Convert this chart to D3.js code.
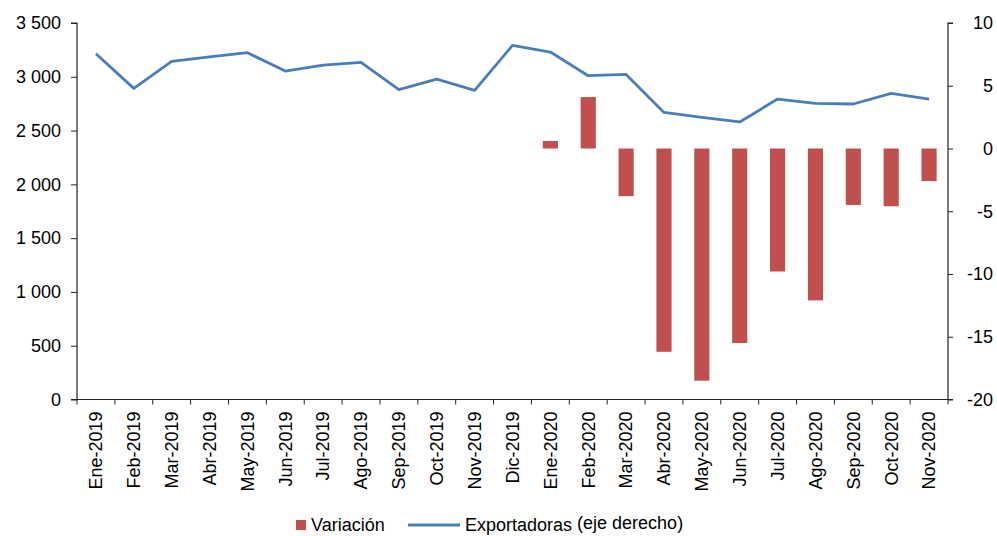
<!DOCTYPE html>
<html>
<head>
<meta charset="utf-8">
<script src="https://cdn.jsdelivr.net/npm/d3@7"></script>
<style>
  body { margin: 0; background: #fff; }
  svg text { font-family: "Liberation Sans", Arial, sans-serif; fill: #000; }
</style>
</head>
<body>
<svg width="997" height="536"></svg>
<script>
const svg = d3.select("svg");

// months on the x axis
const months = [
  "Ene-2019", "Feb-2019", "Mar-2019", "Abr-2019", "May-2019", "Jun-2019",
  "Jul-2019", "Ago-2019", "Sep-2019", "Oct-2019", "Nov-2019", "Dic-2019",
  "Ene-2020", "Feb-2020", "Mar-2020", "Abr-2020", "May-2020", "Jun-2020",
  "Jul-2020", "Ago-2020", "Sep-2020", "Oct-2020", "Nov-2020"
];

// number of exporting firms (line)
const exportadoras = [
  3214, 2892, 3143, 3186, 3224, 3053, 3109, 3134, 2880, 2979, 2874, 3292,
  3230, 3010, 3022, 2669, 2623, 2580, 2793, 2753, 2747, 2846, 2793
];

// yearly variation, % (bars) - only 2020
const variacion = [
  null, null, null, null, null, null, null, null, null, null, null, null,
  0.6, 4.1, -3.8, -16.2, -18.5, -15.5, -9.8, -12.1, -4.5, -4.6, -2.6
];

const leftTicks = [0, 500, 1000, 1500, 2000, 2500, 3000, 3500];
const rightTicks = [-20, -15, -10, -5, 0, 5, 10];

const plotL = 77, plotR = 948, plotT = 23, plotB = 399.5;

const x = d3.scaleBand().domain(months).range([plotL, plotR]).padding(0);
const yL = d3.scaleLinear().domain([0, 3500]).range([plotB, plotT]);
const yR = d3.scaleLinear().domain([-20, 10]).range([plotB, plotT]);

const fmt = d => d3.format(",")(d).replace(/,/g, "\u00a0");

// bars
const barW = x.bandwidth() * 0.4;
svg.append("g")
  .selectAll("rect")
  .data(months.map((m, i) => ({ m, v: variacion[i] })).filter(d => d.v !== null))
  .enter().append("rect")
  .attr("x", d => x(d.m) + (x.bandwidth() - barW) / 2)
  .attr("y", d => yR(Math.max(0, d.v)))
  .attr("width", barW)
  .attr("height", d => Math.abs(yR(d.v) - yR(0)))
  .attr("fill", "#C0504D");

// line
const line = d3.line()
  .x((d, i) => x(months[i]) + x.bandwidth() / 2)
  .y(d => yL(d));

svg.append("path")
  .datum(exportadoras)
  .attr("d", line)
  .attr("fill", "none")
  .attr("stroke", "#4A7EBB")
  .attr("stroke-width", 2.8)
  .attr("stroke-linejoin", "round");

// left axis
const gL = svg.append("g")
  .attr("transform", `translate(${plotL},0)`)
  .call(d3.axisLeft(yL).tickValues(leftTicks).tickFormat(fmt).tickSize(6).tickPadding(10));

// right axis (plain hyphen for negatives, like the original)
const gR = svg.append("g")
  .attr("transform", `translate(${plotR},0)`)
  .call(d3.axisRight(yR).tickValues(rightTicks).tickFormat(d => String(d)).tickSize(5).tickPadding(0));
gR.selectAll(".tick text").attr("text-anchor", "end").attr("x", 993 - plotR);

// x axis
const gX = svg.append("g")
  .attr("transform", `translate(0,${plotB})`)
  .call(d3.axisBottom(x).tickSize(0).tickFormat(d => d));
gX.selectAll(".tick text")
  .attr("transform", "rotate(-90)")
  .attr("text-anchor", "end")
  .attr("x", -12)
  .attr("y", 0)
  .attr("dy", "0.35em");

// x tick marks on band boundaries
svg.append("g")
  .selectAll("line")
  .data(months.concat(["__end"]))
  .enter().append("line")
  .attr("x1", (d, i) => plotL + i * x.step())
  .attr("x2", (d, i) => plotL + i * x.step())
  .attr("y1", plotB)
  .attr("y2", plotB + 5)
  .attr("stroke", "#222");

[gL, gR, gX].forEach(g => {
  g.select(".domain").attr("stroke", "#222").attr("stroke-width", 1.2);
  g.selectAll(".tick line").attr("stroke", "#222");
  g.selectAll(".tick text").attr("font-size", 18).attr("fill", "#000")
    .style("font-family", "'Liberation Sans', Arial, sans-serif");
});
gL.select(".domain").attr("d", `M-6,${plotT}H0V${plotB}H-6`);
gR.select(".domain").attr("d", `M5,${plotT}H0V${plotB}H5`);
gX.select(".domain").attr("d", `M${plotL - 6},0H${plotR + 5}`);

// legend
const legend = svg.append("g").attr("font-size", 18);
legend.append("rect")
  .attr("x", 296).attr("y", 520).attr("width", 10).attr("height", 10)
  .attr("fill", "#C0504D");
legend.append("text").attr("x", 311).attr("y", 531).text("Variación");
legend.append("line")
  .attr("x1", 408).attr("x2", 460).attr("y1", 525).attr("y2", 525)
  .attr("stroke", "#4A7EBB").attr("stroke-width", 2.8);
legend.append("text").attr("x", 465).attr("y", 531)
  .text("Exportadoras ")
  .append("tspan").attr("dy", -2).text("(eje derecho)");
</script>
</body>
</html>
